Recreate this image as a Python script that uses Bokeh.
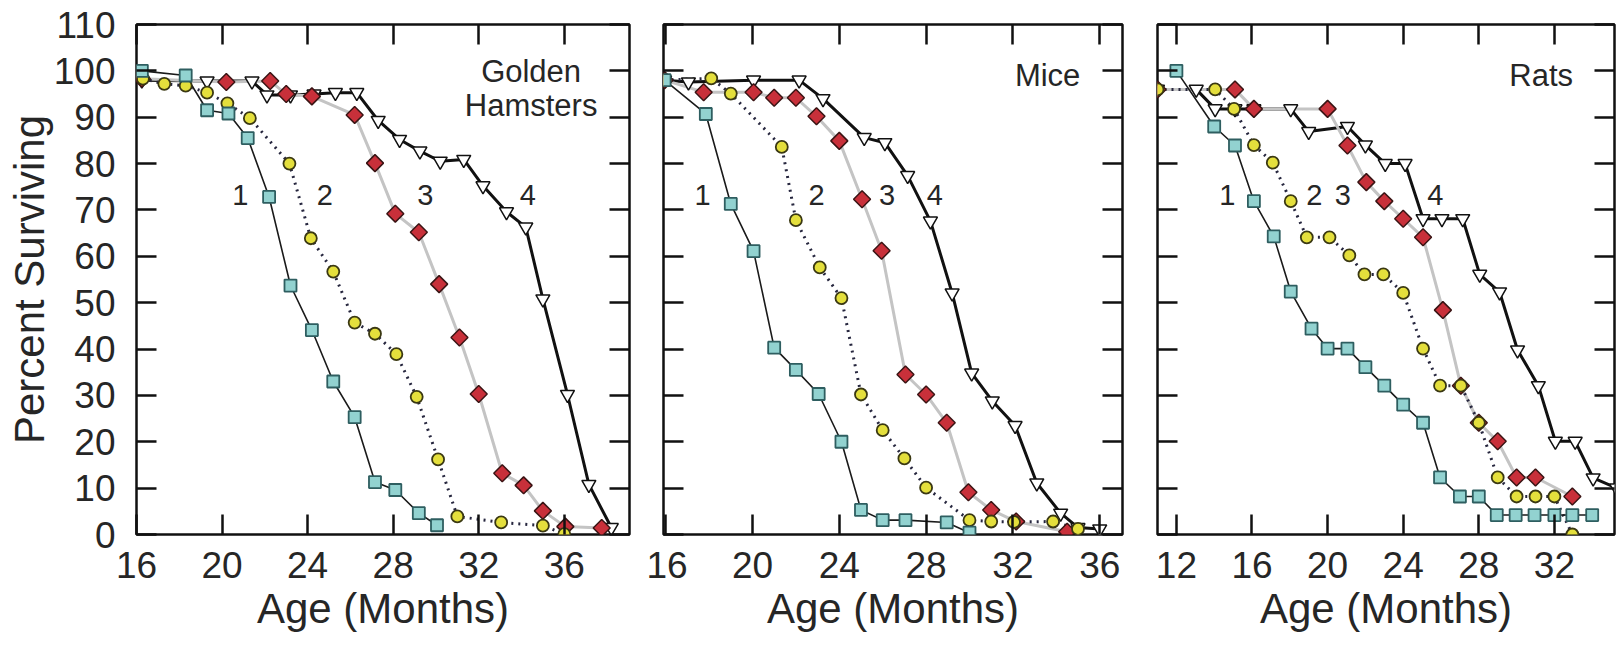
import numpy as np
from bokeh.plotting import figure
from bokeh.layouts import row
from bokeh.models import LinearAxis, FixedTicker, Range1d
from bokeh.core.properties import value
from bokeh.embed import file_html
from bokeh.resources import INLINE

# ---------------- data ----------------
# Golden hamsters
h1_x = [16.25, 18.3, 19.3, 20.3, 21.2, 22.2, 23.2, 24.2, 25.2, 26.2, 27.15, 28.1, 29.2, 30.05]
h1_y = [100, 99, 91.5, 90.8, 85.5, 72.8, 53.7, 44.1, 33.0, 25.3, 11.3, 9.6, 4.6, 2.0]
h2_x = [16.3, 17.3, 18.3, 19.3, 20.25, 21.3, 23.15, 24.15, 25.2, 26.2, 27.15, 28.15, 29.1, 30.1, 31.0, 33.05, 35.0, 36.0]
h2_y = [98.3, 97.2, 96.8, 95.3, 93.0, 89.8, 80.0, 63.9, 56.7, 45.7, 43.3, 38.9, 29.7, 16.2, 3.9, 2.6, 1.9, 0.1]
h3_x = [16.25, 20.2, 22.25, 23.0, 24.2, 26.2, 27.15, 28.1, 29.2, 30.15, 31.1, 32.0, 33.1, 34.1, 35.0, 36.05, 37.75]
h3_y = [98.3, 97.6, 97.8, 95.0, 94.5, 90.5, 80.1, 69.2, 65.2, 54.0, 42.5, 30.3, 13.2, 10.6, 5.1, 1.7, 1.4]
h4_x = [16.25, 19.3, 21.4, 22.1, 23.2, 24.3, 25.3, 26.3, 27.3, 28.3, 29.25, 30.2, 31.3, 32.2, 33.3, 34.2, 35.0, 36.15, 37.15, 38.2]
h4_y = [98.0, 97.8, 97.8, 94.8, 94.8, 95.0, 95.3, 95.3, 89.3, 85.2, 82.7, 80.5, 80.9, 75.2, 69.6, 66.3, 50.8, 30.2, 10.8, 1.5]

# Mice
m1_x = [15.95, 17.85, 19.0, 20.05, 21.0, 22.0, 23.05, 24.1, 25.0, 26.0, 27.05, 28.95, 30.0]
m1_y = [98.0, 90.7, 71.3, 61.1, 40.3, 35.5, 30.3, 20.0, 5.3, 3.1, 3.1, 2.6, 0.4]
m2_x = [15.95, 18.1, 19.0, 21.35, 22.0, 23.1, 24.1, 25.0, 26.0, 27.0, 28.0, 30.0, 31.0, 32.05, 33.85, 35.0]
m2_y = [98.0, 98.4, 95.1, 83.6, 67.8, 57.6, 51.0, 30.2, 22.5, 16.4, 10.1, 3.1, 2.8, 2.7, 2.8, 1.2]
m3_x = [15.95, 17.75, 20.05, 21.0, 22.0, 22.95, 24.0, 25.05, 25.95, 27.05, 28.0, 28.95, 29.95, 31.0, 32.15, 34.5]
m3_y = [98.0, 95.4, 95.4, 94.2, 94.2, 90.2, 84.9, 72.3, 61.2, 34.5, 30.2, 24.1, 9.1, 5.3, 2.8, 0.6]
m4_x = [15.95, 17.05, 20.05, 22.15, 23.25, 25.15, 26.1, 27.15, 28.2, 29.2, 30.1, 31.05, 32.1, 33.1, 34.2, 35.0, 36.0]
m4_y = [98.0, 97.6, 98.0, 98.0, 94.0, 85.6, 84.5, 77.4, 67.6, 52.1, 34.8, 28.8, 23.5, 11.1, 4.6, 1.5, 1.2]

# Rats
r1_x = [12.0, 14.0, 15.1, 16.1, 17.15, 18.05, 19.15, 20.0, 21.05, 22.0, 23.0, 24.0, 25.05, 25.95, 27.0, 28.0, 28.95, 29.95, 30.95, 32.0, 32.95, 34.0]
r1_y = [100.0, 88.0, 83.9, 71.9, 64.3, 52.4, 44.4, 40.1, 40.1, 36.1, 32.1, 28.0, 24.1, 12.3, 8.2, 8.2, 4.2, 4.2, 4.2, 4.2, 4.2, 4.2]
r2_x = [11.0, 14.05, 15.05, 16.1, 17.1, 18.05, 18.9, 20.1, 21.15, 21.95, 22.95, 24.0, 25.05, 25.95, 27.05, 28.0, 29.0, 30.0, 31.0, 32.0, 32.95]
r2_y = [96.0, 96.0, 91.8, 84.0, 80.2, 71.9, 64.1, 64.1, 60.2, 56.1, 56.1, 52.1, 40.1, 32.1, 32.1, 24.1, 12.3, 8.2, 8.2, 8.2, 0.0]
r3_x = [11.0, 15.1, 16.1, 20.0, 21.05, 22.05, 23.0, 24.0, 25.05, 26.1, 27.05, 28.0, 29.0, 30.0, 31.0, 32.95]
r3_y = [96.0, 96.0, 91.8, 91.8, 83.9, 76.0, 71.9, 68.1, 64.1, 48.4, 32.1, 24.1, 20.1, 12.3, 12.3, 8.2]
r4_x = [11.0, 13.05, 14.05, 15.1, 16.1, 18.05, 19.0, 21.05, 22.0, 23.05, 24.1, 25.05, 26.05, 27.15, 28.05, 29.1, 30.05, 31.15, 32.05, 33.1, 34.05, 35.3]
r4_y = [96.0, 96.0, 91.8, 91.8, 91.8, 91.8, 86.9, 88.0, 84.0, 80.0, 80.0, 68.1, 68.1, 68.1, 56.1, 52.3, 39.8, 32.1, 20.1, 20.1, 12.2, 10.0]

curve_names = ["1", "2", "3", "4"]
h_num_x = [20.85, 24.8, 29.5, 34.3]
m_num_x = [17.7, 22.95, 26.2, 28.4]
r_num_x = [14.7, 19.3, 20.8, 25.7]
num_y = [73.3, 73.3, 73.3, 73.3]

species_h = ["Golden", "Hamsters"]
species_h_x = [34.45, 34.45]
species_h_y = [99.8, 92.6]
species_m = ["Mice"]
species_m_x = [33.6]
species_m_y = [99.1]
species_r = ["Rats"]
species_r_x = [31.3]
species_r_y = [99.1]

y_ticks = [0, 10, 20, 30, 40, 50, 60, 70, 80, 90, 100, 110]
h_xticks = [16, 20, 24, 28, 32, 36]
m_xticks = [16, 20, 24, 28, 32, 36]
r_xticks = [12, 16, 20, 24, 28, 32]

# ---------------- styling ----------------
FONT = "Liberation Sans"
TXT = "#262626"
TICK_FS = "37px"
TITLE_FS = "42px"


def style_axis(ax, ticks, show_labels, standoff=20):
    ax.ticker = FixedTicker(ticks=ticks)
    ax.major_tick_in = 20
    ax.major_tick_out = 0
    ax.minor_tick_in = 0
    ax.minor_tick_out = 0
    ax.major_tick_line_color = "#111111"
    ax.major_tick_line_width = 2.5
    ax.axis_line_color = None
    if show_labels:
        ax.major_label_text_font = FONT
        ax.major_label_text_font_size = TICK_FS
        ax.major_label_text_color = TXT
        ax.major_label_standoff = standoff
    else:
        ax.major_label_text_font_size = "0px"
        ax.major_label_standoff = 0


def panel(xr, xticks, data, num_x, sp_text, sp_x, sp_y, show_y, bl, br, fw):
    p = figure(frame_width=fw, frame_height=510, x_range=Range1d(*xr), y_range=Range1d(0, 110),
               x_axis_type=None, y_axis_type=None, output_backend="svg", toolbar_location=None,
               min_border_left=bl, min_border_right=br, min_border_top=24, min_border_bottom=113,
               background_fill_color="white", border_fill_color="white")
    p.outline_line_color = "#111111"
    p.outline_line_width = 2.5

    left = LinearAxis()
    style_axis(left, y_ticks, show_y, 21)
    if show_y:
        left.axis_label = "Percent Surviving"
        left.axis_label_text_font = FONT
        left.axis_label_text_font_size = TITLE_FS
        left.axis_label_text_font_style = "normal"
        left.axis_label_text_color = TXT
        left.axis_label_standoff = -2
    p.add_layout(left, "left")
    right = LinearAxis()
    style_axis(right, y_ticks, False)
    p.add_layout(right, "right")
    below = LinearAxis()
    style_axis(below, xticks, True, 17)
    below.axis_label = "Age (Months)"
    below.axis_label_text_font = FONT
    below.axis_label_text_font_size = TITLE_FS
    below.axis_label_text_font_style = "normal"
    below.axis_label_text_color = TXT
    below.axis_label_standoff = 4
    p.add_layout(below, "below")
    above = LinearAxis()
    style_axis(above, xticks, False)
    p.add_layout(above, "above")

    (x1, y1), (x2, y2), (x3, y3), (x4, y4) = data
    # lines
    p.line(x4, y4, line_color="#111111", line_width=3)
    p.line(x3, y3, line_color="#c4c4c4", line_width=3)
    p.line(x2, y2, line_color="#26263e", line_width=3, line_dash="2 5")
    p.line(x1, y1, line_color="#1a1a1a", line_width=1.6)
    # markers
    p.scatter(x4, y4, marker="inverted_triangle", size=14, fill_color="white",
              line_color="#111111", line_width=1.5)
    p.scatter(x3, y3, marker="square", angle=np.pi / 4, size=12, fill_color="#c8303a",
              line_color="#3a1414", line_width=1.5)
    p.scatter(x2, y2, marker="circle", size=12, fill_color="#e4df3c",
              line_color="#3a3812", line_width=1.8)
    p.scatter(x1, y1, marker="square", size=12, fill_color="#92d2d0",
              line_color="#2e5e60", line_width=1.8)

    p.text(num_x, num_y, text=curve_names, text_font=value(FONT), text_font_size="29px",
           text_color=TXT, text_align="center", text_baseline="middle")
    p.text(sp_x, sp_y, text=sp_text, text_font=value(FONT), text_font_size="31px",
           text_color=TXT, text_align="center", text_baseline="middle")
    return p


p1 = panel((16, 39.05), h_xticks, [(h1_x, h1_y), (h2_x, h2_y), (h3_x, h3_y), (h4_x, h4_y)],
           h_num_x, species_h, species_h_x, species_h_y, True, 136, 17, 493)
p2 = panel((15.9, 37.05), m_xticks, [(m1_x, m1_y), (m2_x, m2_y), (m3_x, m3_y), (m4_x, m4_y)],
           m_num_x, species_m, species_m_x, species_m_y, False, 17, 17, 459)
p3 = panel((11.0, 35.18), r_xticks, [(r1_x, r1_y), (r2_x, r2_y), (r3_x, r3_y), (r4_x, r4_y)],
           r_num_x, species_r, species_r_x, species_r_y, False, 18, 5, 457)

layout = row(p1, p2, p3, spacing=0)
open("out.html", "w").write(file_html(layout, INLINE))
